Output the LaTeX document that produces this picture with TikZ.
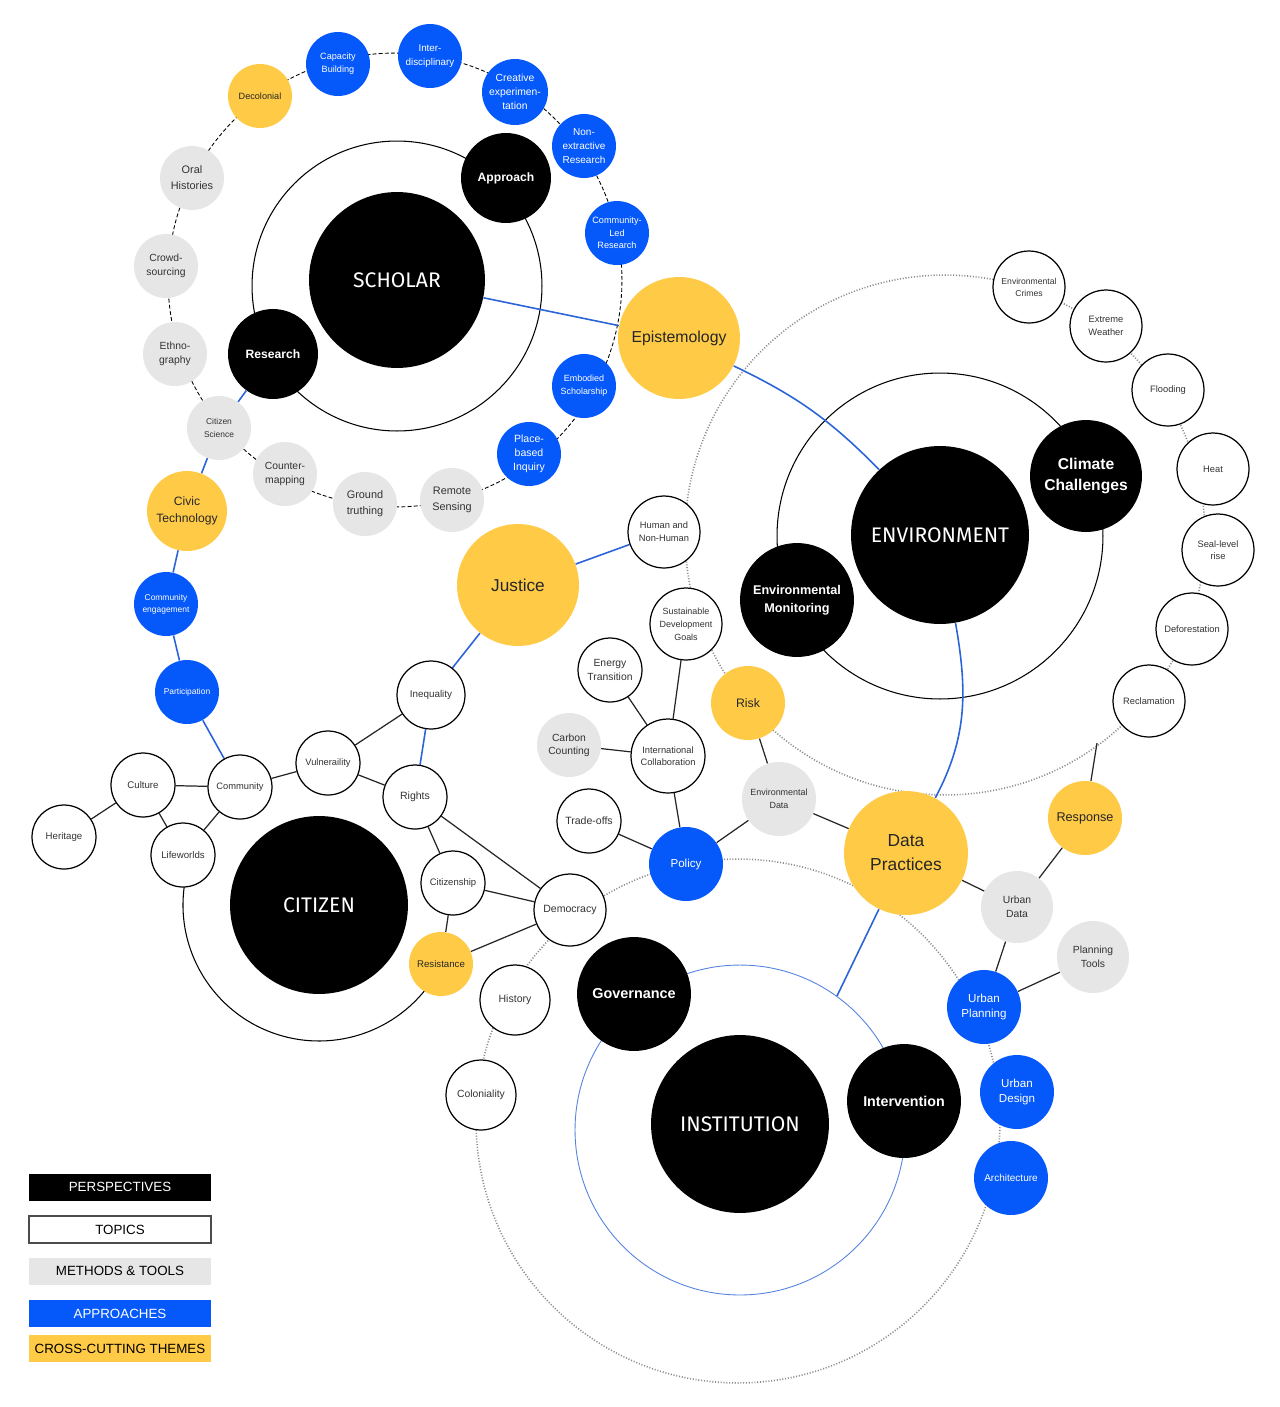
\documentclass[tikz,border=0pt]{standalone}
\usepackage{fontspec}
\setmainfont{Liberation Sans}
\newfontfamily\perspfont{Fira Sans}
\usetikzlibrary{backgrounds}

\definecolor{apblue}{HTML}{0558FA}
\definecolor{thyellow}{HTML}{FFCB47}
\definecolor{mtgrey}{HTML}{E6E6E6}
\definecolor{lnblue}{HTML}{2A64D8}
\definecolor{dotgrey}{HTML}{8C8C8C}
\definecolor{txgrey}{HTML}{333333}

\newcommand\tsz[2]{\fontsize{#1}{#2}\selectfont}
\newcommand\bigpfont{\perspfont\fontsize{12}{14}\selectfont}

\tikzset{
  bub/.style={circle, inner sep=0pt, align=center, minimum size=#1*0.04cm},
  persp/.style={bub=#1, fill=black, text=white},
  topic/.style={bub=#1, draw=black, line width=0.7pt, fill=white, text=txgrey},
  method/.style={bub=#1, fill=mtgrey, text=txgrey},
  apprch/.style={bub=#1, fill=apblue, text=white},
  theme/.style={bub=#1, fill=thyellow, text=black!85},
  link/.style={line width=0.7pt, draw=black!85},
  blink/.style={line width=0.9pt, draw=lnblue},
  ring/.style={line width=0.6pt},
  dashring/.style={line width=0.5pt, dash pattern=on 2.2pt off 1.3pt},
  dotring/.style={draw=dotgrey, line width=0.9pt, dash pattern=on 0.6pt off 1pt},
  key/.style={minimum width=3.64cm, minimum height=0.54cm, inner sep=0pt, font=\tsz{7.6}{9}}
}

\begin{document}
\begin{tikzpicture}[x=0.02cm, y=-0.02cm]
\useasboundingbox (0,0) rectangle (1279,1407);

% scholar
\node[persp=88, font=\bigpfont] (scholar) at (397,280) {SCHOLAR};
\node[persp=45, font={\bfseries\tsz{6.9}{9}}] (approach) at (506,178) {Approach};
\node[persp=45, font={\bfseries\tsz{6.9}{9}}] (research) at (273,354) {Research};
\node[theme=32, font={\tsz{5.2}{7.3}}] (decolonial) at (260,96) {Decolonial};
\node[apprch=32, font={\tsz{5.2}{7.4}}] (capacity) at (338,64) {Capacity\\Building};
\node[apprch=32, font={\tsz{5.6}{7.6}}] (interdisc) at (430,56) {Inter-\\disciplinary};
\node[apprch=33, font={\tsz{5.9}{7.9}}] (creative) at (515,92) {Creative\\experimen-\\tation};
\node[apprch=32, font={\tsz{5.7}{7.9}}] (nonextr) at (584,146) {Non-\\extractive\\Research};
\node[apprch=32, font={\tsz{5.2}{7.1}}] (commled) at (617,233) {Community-\\Led\\Research};
\node[apprch=32, font={\tsz{5.1}{7.3}}] (embodied) at (584,386) {Embodied\\Scholarship};
\node[apprch=32, font={\tsz{6}{7.9}}] (placebased) at (529,454) {Place-\\based\\Inquiry};
\node[method=32, font={\tsz{6.2}{9}}] (remote) at (452,500) {Remote\\Sensing};
\node[method=32, font={\tsz{6.2}{9}}] (ground) at (365,504) {Ground\\truthing};
\node[method=32, font={\tsz{5.9}{8.4}}] (counter) at (285,474) {Counter-\\mapping};
\node[method=32, font={\tsz{4.8}{7.3}}] (citsci) at (219,428) {Citizen\\Science};
\node[method=32, font={\tsz{5.9}{8}}] (ethno) at (175,354) {Ethno-\\graphy};
\node[method=32, font={\tsz{5.9}{8}}] (crowd) at (166,266) {Crowd-\\sourcing};
\node[method=32, font={\tsz{6.2}{9}}] (oral) at (192,178) {Oral\\Histories};
\node[theme=61, font={\tsz{9}{12}}] (episteme) at (679,338) {Epistemology};

% left chain
\node[theme=40, font={\tsz{6.9}{9.6}}] (civic) at (187,511) {Civic\\Technology};
\node[apprch=32, font={\tsz{4.8}{6.8}}] (commeng) at (166,604) {Community\\engagement};
\node[apprch=32, font={\tsz{4.8}{6.8}}] (particip) at (187,692) {Participation};

% citizen
\node[persp=89, font=\bigpfont] (citizen) at (319,905) {CITIZEN};
\node[topic=32, font={\tsz{5.5}{7.5}}] (heritage) at (64,837) {Heritage};
\node[topic=32, font={\tsz{5.5}{7.5}}] (culture) at (143,785) {Culture};
\node[topic=32, font={\tsz{5.3}{7.5}}] (community) at (240,787) {Community};
\node[topic=32, font={\tsz{5.5}{7.5}}] (lifeworlds) at (183,855) {Lifeworlds};
\node[topic=32, font={\tsz{5.3}{7.5}}] (vulner) at (328,763) {Vulneraility};
\node[topic=34, font={\tsz{5.6}{7.5}}] (inequality) at (431,695) {Inequality};
\node[topic=32, font={\tsz{6}{8}}] (rights) at (415,797) {Rights};
\node[topic=32, font={\tsz{5.4}{7.5}}] (citizenship) at (453,883) {Citizenship};
\node[topic=36, font={\tsz{6}{8}}] (democracy) at (570,910) {Democracy};
\node[theme=32, font={\tsz{5.5}{7.5}}] (resistance) at (441,964) {Resistance};
\node[topic=35, font={\tsz{6}{8}}] (history) at (515,1000) {History};
\node[topic=35, font={\tsz{5.9}{8}}] (coloniality) at (481,1095) {Coloniality};

% middle
\node[theme=61, font={\tsz{9.8}{13}}] (justice) at (518,585) {Justice};
\node[topic=36, font={\tsz{5.3}{7.4}}] (hnh) at (664,532) {Human and\\Non-Human};
\node[topic=36, font={\tsz{5.1}{7.3}}] (sdg) at (686,624) {Sustainable\\Development\\Goals};
\node[topic=32, font={\tsz{5.9}{8}}] (energy) at (610,670) {Energy\\Transition};
\node[method=32, font={\tsz{5.9}{7.6}}] (carbon) at (569,745) {Carbon\\Counting};
\node[topic=37, font={\tsz{5.3}{7}}] (intl) at (668,756) {International\\Collaboration};
\node[topic=32, font={\tsz{6}{8}}] (tradeoffs) at (589,821) {Trade-offs};
\node[apprch=37, font={\tsz{6.6}{8}}] (policy) at (686,864) {Policy};
\node[theme=37, font={\tsz{7}{9}}] (risk) at (748,703) {Risk};
\node[method=37, font={\tsz{5.1}{7.3}}] (envdata) at (779,799) {Environmental\\Data};

% environment
\node[persp=89, font=\bigpfont] (environment) at (940,535) {ENVIRONMENT};
\node[persp=56, font={\bfseries\tsz{8.9}{11.9}}] (climate) at (1086,476) {Climate\\Challenges};
\node[persp=57, font={\bfseries\tsz{7.2}{10.2}}] (envmon) at (797,600) {Environmental\\Monitoring};
\node[topic=36, font={\tsz{4.9}{6.8}}] (envcrimes) at (1029,287) {Environmental\\Crimes};
\node[topic=36, font={\tsz{5.3}{7.4}}] (extreme) at (1106,326) {Extreme\\Weather};
\node[topic=36, font={\tsz{5.3}{7.4}}] (flooding) at (1168,390) {Flooding};
\node[topic=36, font={\tsz{5.3}{7.4}}] (heat) at (1213,469) {Heat};
\node[topic=36, font={\tsz{5.3}{7.2}}] (sealevel) at (1218,550) {Seal-level\\rise};
\node[topic=36, font={\tsz{5.3}{7.4}}] (deforest) at (1192,629) {Deforestation};
\node[topic=36, font={\tsz{5.3}{7.4}}] (reclam) at (1149,701) {Reclamation};
\coordinate (envpt) at (1097,743);

% data and institution
\node[theme=62, font={\tsz{9.9}{13.6}}] (datapr) at (906,853) {Data\\Practices};
\node[theme=37, font={\tsz{7.2}{9}}] (response) at (1085,818) {Response};
\node[method=36, font={\tsz{5.9}{8}}] (urbandata) at (1017,907) {Urban\\Data};
\node[method=36, font={\tsz{5.9}{8}}] (plantools) at (1093,957) {Planning\\Tools};
\node[apprch=37, font={\tsz{6.6}{9}}] (urbanplan) at (984,1007) {Urban\\Planning};
\node[apprch=37, font={\tsz{6.6}{9}}] (urbandes) at (1017,1092) {Urban\\Design};
\node[apprch=37, font={\tsz{5.7}{8}}] (architecture) at (1011,1178) {Architecture};
\node[persp=89, font=\bigpfont] (institution) at (740,1124) {INSTITUTION};
\node[persp=57, font={\bfseries\tsz{8.2}{10}}] (governance) at (634,994) {Governance};
\node[persp=57, font={\bfseries\tsz{8.1}{10}}] (intervention) at (904,1101) {Intervention};
\coordinate (instpt) at (837,996);

% key
\node[key, fill=black, text=white] (kpersp) at (120,1187) {PERSPECTIVES};
\node[key, draw=black!70, line width=0.6pt] (ktopic) at (120,1229.5) {TOPICS};
\node[key, fill=mtgrey] (kmethod) at (120,1271) {METHODS \& TOOLS};
\node[key, fill=apblue, text=white] (kapp) at (120,1313.5) {APPROACHES};
\node[key, fill=thyellow] (ktheme) at (120,1348.5) {CROSS-CUTTING THEMES};

\begin{pgfonlayer}{background}
\fill[white] (0,0) rectangle (1279,1407);
\draw[dashring] (395,280) circle[radius=4.54cm];
\draw[ring] (397,286) circle[radius=2.9cm];
\draw[dotring] (945,535) circle[radius=5.2cm];
\draw[ring] (940,536) circle[radius=3.26cm];
\draw[dotring] (738,1121) circle[radius=5.24cm];
\draw[draw=lnblue!80, line width=0.5pt] (740,1130) circle[radius=3.3cm];
\draw[ring] ([shift={(165:2.72cm)}]319,905) arc[start angle=165, end angle=335, radius=2.72cm];

\draw[blink] (scholar) -- (episteme);
\draw[blink] (episteme) to[bend left=10] (environment);
\draw[blink] (environment) to[out=-80, in=62] (datapr);
\draw[blink] (datapr) -- (instpt);
\draw[blink] (research) -- (citsci) -- (civic) -- (commeng) -- (particip) -- (community);
\draw[blink] (rights) -- (inequality) -- (justice) -- (hnh);

\draw[link] (heritage) -- (culture) -- (community) -- (vulner) -- (inequality);
\draw[link] (culture) -- (lifeworlds) -- (community);
\draw[link] (vulner) -- (rights) -- (citizenship) -- (resistance) -- (democracy);
\draw[link] (rights) -- (democracy) -- (citizenship);
\draw[link] (energy) -- (intl) -- (carbon);
\draw[link] (sdg) -- (intl) -- (policy) -- (tradeoffs);
\draw[link] (policy) -- (envdata) -- (risk);
\draw[link] (envdata) -- (datapr) -- (urbandata) -- (response) -- (envpt);
\draw[link] (urbandata) -- (urbanplan) -- (plantools);
\end{pgfonlayer}
\end{tikzpicture}
\end{document}
